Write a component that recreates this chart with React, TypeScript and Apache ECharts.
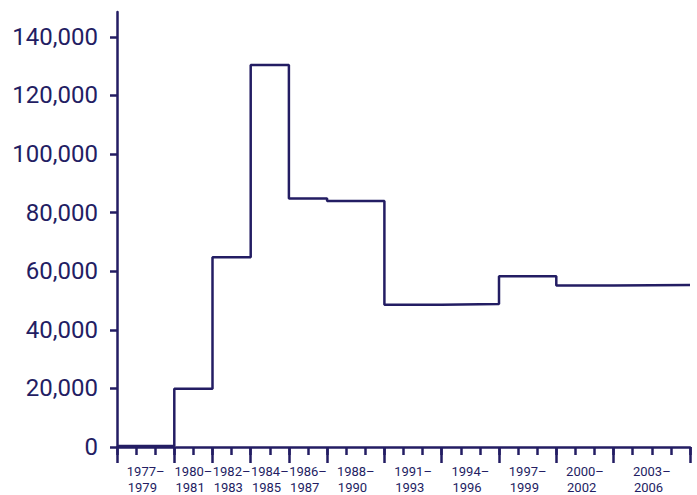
import React, { useEffect, useRef } from "react";
import * as echarts from "echarts";

const periodStarts = [1977, 1980, 1982, 1984, 1986, 1988, 1991, 1994, 1997, 2000, 2003];
const periodEnd = 2007;
const periodValues = [300, 19900, 64800, 130400, 84800, 84000, 48600, 48800, 58300, 55100, 55300];
const periodLabels = [
  "1977–\n1979",
  "1980–\n1981",
  "1982–\n1983",
  "1984–\n1985",
  "1986–\n1987",
  "1988–\n1990",
  "1991–\n1993",
  "1994–\n1996",
  "1997–\n1999",
  "2000–\n2002",
  "2003–\n2006",
];
const yTicks = [0, 20000, 40000, 60000, 80000, 100000, 120000, 140000];

const NAVY = "#231d63";
const FONT = "Roboto";

export default function App() {
  const ref = useRef<HTMLDivElement>(null);
  useEffect(() => {
    document.body.style.margin = "0";
    if (!ref.current) return;
    const chart = echarts.init(ref.current, null, { renderer: "svg" });
    const bounds = [...periodStarts, periodEnd];
    const mids = periodStarts.map((s, i) => (s + bounds[i + 1]) / 2);
    const data = periodStarts.map((s, i) => [s, periodValues[i]]);
    data.push([periodEnd, periodValues[periodValues.length - 1]]);
    chart.setOption({
      animation: false,
      grid: { left: 117, right: 7, top: 12, bottom: 48, containLabel: false, outerBoundsMode: "none" },
      xAxis: [
        {
          type: "value",
          min: 1977,
          max: 2007,
          interval: 1,
          position: "bottom",
          axisLine: { show: true, lineStyle: { color: NAVY, width: 2.5 } },
          axisTick: { show: true, length: 8, lineStyle: { color: NAVY, width: 2.5 } },
          axisLabel: { show: false },
          splitLine: { show: false },
        },
        {
          type: "value",
          min: 1977,
          max: 2007,
          position: "bottom",
          axisLine: { show: false },
          axisTick: {
            show: true,
            length: 16,
            customValues: bounds,
            lineStyle: { color: NAVY, width: 2.5 },
          },
          axisLabel: {
            show: true,
            customValues: mids,
            margin: 16,
            color: NAVY,
            fontFamily: FONT,
            fontSize: 13,
            lineHeight: 16,
            align: "center",
            formatter: (v: number) => {
              const i = mids.findIndex((m) => Math.abs(m - v) < 1e-6);
              if (i < 0) return "";
              const [a, b] = periodLabels[i].split("\n");
              return a + "\n" + b + "\u2002";
            },
          },
          splitLine: { show: false },
        },
      ],
      yAxis: {
        type: "value",
        min: 0,
        max: 148500,
        axisLine: { show: true, lineStyle: { color: NAVY, width: 2.5 } },
        axisTick: { show: true, length: 7, customValues: yTicks, lineStyle: { color: NAVY, width: 2.5 } },
        axisLabel: {
          show: true,
          customValues: yTicks,
          margin: 19,
          color: NAVY,
          fontFamily: FONT,
          fontSize: 24,
          formatter: (v: number) => v.toLocaleString("en-US"),
        },
        splitLine: { show: false },
      },
      series: [
        {
          type: "line",
          step: "end",
          xAxisIndex: 0,
          data,
          symbol: "none",
          lineStyle: { color: NAVY, width: 2.5 },
        },
      ],
    });
    return () => chart.dispose();
  }, []);
  return <div ref={ref} style={{ width: 697, height: 495 }} />;
}
